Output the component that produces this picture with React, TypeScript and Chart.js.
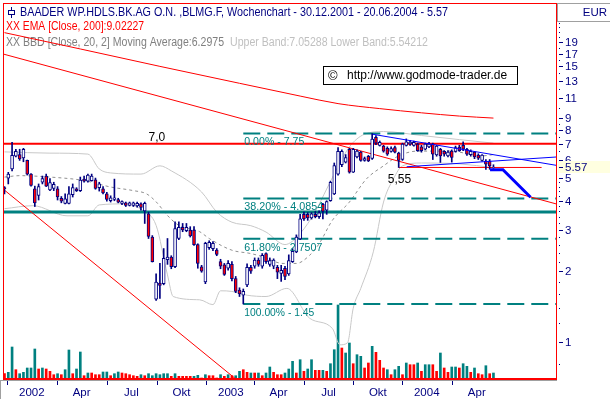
import React, { useEffect, useRef } from 'react';
import { Chart, registerables } from 'chart.js';

Chart.register(...registerables);

// Weekly candles, week 0 = 30.12.2001, last = 20.06.2004
const opens = [4.55,5.0,5.47,6.2,6.3,6.1,5.95,5.2,4.5,4.22,4.8,5.1,4.45,4.52,4.5,4.1,3.9,3.9,4.25,4.5,4.42,4.95,4.85,4.88,4.92,4.55,4.5,4.28,4.0,4.05,4.05,3.9,3.92,3.82,3.82,3.8,3.88,3.62,3.52,2.8,1.52,1.78,1.77,2.24,2.3,2.09,2.76,3.08,2.98,3.0,3.0,2.6,2.09,1.8,2.52,2.5,2.46,2.2,2.13,2.06,2.14,1.86,1.66,1.58,1.75,2.08,2.1,2.23,2.1,2.38,2.14,2.1,2.08,1.96,2.06,1.95,2.2,2.42,2.75,3.5,3.5,3.38,3.5,3.42,3.86,3.65,4.0,4.28,5.2,5.7,5.85,6.64,5.3,6.15,6.45,5.95,6.2,6.07,7.47,6.9,6.85,6.7,6.5,6.75,6.4,6.0,6.9,7.0,6.9,6.98,6.8,6.64,6.8,6.98,6.28,6.64,6.5,6.22,6.52,6.5,6.78,6.9,6.64,6.3,6.45,6.27,5.95,5.91,5.91,5.55];
const highs = [4.6,5.29,7.1,6.64,6.64,6.7,5.97,5.22,4.62,4.72,5.1,5.2,4.98,4.8,4.6,4.17,4.28,4.6,4.72,4.55,5.05,5.1,5.2,5.2,5.0,4.8,4.6,4.35,4.2,4.95,4.1,4.0,3.95,3.95,3.95,3.95,3.92,3.95,3.58,2.84,1.95,2.16,2.5,2.76,2.33,3.25,3.25,3.2,3.2,3.1,3.1,2.62,2.12,2.66,2.7,2.68,2.5,2.25,2.16,2.22,2.2,1.9,1.7,1.68,2.15,2.12,2.28,2.28,2.38,2.4,2.28,2.26,2.12,2.12,2.1,2.35,2.5,2.86,3.5,3.58,3.56,3.56,3.6,3.62,3.9,4.0,4.85,5.8,6.75,6.6,6.3,6.7,6.7,6.6,6.5,6.15,6.25,7.75,7.6,7.2,6.9,6.8,6.8,6.85,6.45,7.05,7.35,7.25,7.2,7.05,6.9,7.05,7.1,7.05,6.9,6.7,6.55,6.55,6.6,6.85,6.9,7.15,6.7,6.6,6.5,6.35,6.3,6.0,6.0,5.7];
const lows = [4.28,4.72,5.37,6.15,5.95,5.87,5.15,4.62,3.78,4.03,4.72,4.6,4.42,4.42,4.03,3.92,3.88,3.88,4.15,4.38,4.38,4.8,4.8,4.85,4.48,4.4,4.28,3.98,3.95,4.0,3.92,3.85,3.78,3.8,3.78,3.76,3.65,3.2,2.76,2.19,1.5,1.53,1.75,2.14,2.05,2.07,2.73,2.95,2.95,2.8,2.58,2.06,1.98,1.77,2.48,2.45,2.33,2.05,1.92,2.02,1.82,1.62,1.56,1.45,1.72,1.96,2.06,2.1,2.06,2.16,2.1,2.05,1.86,1.81,1.84,1.92,2.18,2.4,2.73,3.3,3.3,3.34,3.38,3.36,3.35,3.5,3.98,4.25,5.15,5.6,5.8,5.25,5.28,6.1,5.9,5.9,5.88,6.0,6.95,6.85,6.45,6.25,6.45,6.4,5.55,5.95,6.85,6.9,6.85,6.5,6.45,6.6,6.75,6.0,6.2,5.83,6.2,6.15,5.85,6.45,6.5,6.55,6.25,6.2,6.05,6.0,5.9,5.45,5.45,5.5];
const closes = [4.5,5.2,6.25,6.5,6.03,6.64,5.2,4.65,3.92,4.6,4.98,4.62,4.78,4.7,4.15,3.98,4.08,4.28,4.55,4.42,4.9,4.85,5.15,5.1,4.52,4.72,4.32,4.05,4.12,4.12,3.95,3.97,3.82,3.92,3.92,3.9,3.75,3.9,2.82,2.2,1.8,1.74,2.27,2.3,2.09,3.04,3.08,3.0,3.08,2.83,2.6,2.16,2.0,2.63,2.66,2.63,2.36,2.1,1.94,2.16,1.86,1.64,1.6,1.64,2.08,2.0,2.23,2.14,2.34,2.2,2.22,2.23,1.98,2.02,1.9,2.22,2.43,2.8,3.35,3.35,3.38,3.52,3.42,3.55,3.6,3.97,4.8,5.65,6.5,6.5,6.12,5.3,6.64,6.52,5.95,6.05,5.92,7.33,7.05,7.1,6.52,6.33,6.68,6.45,5.95,6.98,7.15,7.12,7.1,6.55,6.55,6.98,6.98,6.33,6.85,6.22,6.33,6.45,6.12,6.75,6.55,6.64,6.33,6.5,6.15,6.08,6.27,5.74,5.63,5.57];
const volumes = [4.3,5.7,31,8.3,4.3,5.7,10,10,29,9,10,9,6.7,3.3,4.3,3.3,8.3,28,4.3,9,26,2.3,5,5,3.3,3.3,6,6,2.3,4.3,6,5,4.3,3.3,2.3,1.7,3.3,2.3,4.3,2.3,4.3,3.3,4.3,4.3,1.7,4.3,1.7,1.7,1.7,1.7,1.7,2.7,0,3.3,2.3,2.3,0,3.3,1.7,3.3,2.3,2.3,6.7,8.3,5.7,5,5,5,2.3,5,11,5.7,3.3,3.3,5,9,16.7,5,18.3,6.7,9,18.3,7.7,7.7,7.7,6.7,14.3,28.3,73,30,25,35,14.3,23.3,21.7,10,15,31.7,25.7,17.7,10,8.3,3.3,8.3,11.7,3.3,15,13.3,13.3,15,6.7,13.3,13.3,13.3,6.7,25,10,5.7,11,11,10,14.3,11.7,5.7,10,4.3,3.3,12.3,4.3,5];
const volumeUp = [0,1,1,0,1,1,1,1,1,0,1,0,0,0,1,0,1,1,0,1,1,0,1,0,0,0,1,1,0,1,1,0,0,0,0,0,1,0,1,1,1,1,1,1,0,1,0,0,0,0,1,1,0,1,0,0,0,1,0,1,0,1,1,0,0,1,0,1,0,1,1,0,0,0,1,1,1,0,1,0,1,1,0,0,1,0,1,1,1,0,1,1,0,1,1,0,0,1,0,0,0,1,0,1,1,0,1,0,0,1,0,1,1,0,0,1,0,0,1,1,0,1,1,0,1,0,0,1,0,1];

// Indicators: [week, value]
const emaWeeks = [0, 20, 41, 62, 78, 88, 99, 110, 120, 129];
const emaValues = [20.9, 17.8, 15.0, 12.7, 11.2, 10.4, 9.9, 9.5, 9.2, 9.02];
const bbUpperWeeks = [0,12,22,25,28,36,41,44,52,56,60,65,69,74,78,82,85,88,91,95,100,110,120,129];
const bbUpperValues = [6.47,6.39,6.33,5.47,5.26,5.2,5.64,5.37,4.36,3.58,3.24,3.13,2.94,2.6,2.9,3.6,4.49,5.6,6.8,7.7,7.9,7.6,7.3,7.05];
const bbLowerWeeks = [0,7.5,16.5,22,25,32,36.5,40,43,44.5,51.5,55,57,60,64,69,74.5,80.5,86.5,88.5,90.5,92,94,97.3,100,102.6,105,110,120,129];
const bbLowerValues = [3.7,3.81,3.45,3.45,3.84,3.88,3.63,3.14,1.93,1.56,1.51,1.44,1.65,1.64,1.58,1.56,1.69,1.26,1.14,0.97,0.99,1.39,1.69,2.42,3.95,4.96,5.64,5.8,5.75,5.54];
const bbMidWeeks = [0,4,12,21,28,34,37.5,40,43,46,51.5,54,60,65,68,73.5,77,80.5,83,86.5,91,95.5,100,104,109,117.5,126,129];
const bbMidValues = [5.05,5.12,5.05,4.88,4.58,4.42,4.28,3.96,3.46,3.14,2.95,2.76,2.46,2.38,2.31,2.16,2.16,2.34,2.62,3.3,3.95,4.96,5.64,6.22,6.52,6.52,6.22,6.3];

// Drawn lines and levels
const level70 = 7.0;
const supportTeal = 3.58;
const fibStartWeek = 63;
const fibLevels = [7.75, 4.0854, 2.7507, 1.45];
const fibLabels = ['0.00% - 7.75', '38.20% - 4.0854', '61.80% - 2.7507', '100.00% - 1.45'];
const fibLabelWidths = [60, 79, 78, 70];
const steepTrendWeeks = [0, 62];
const steepTrendValues = [4.44, 0.673];
const upperTrendWeeks = [-0.13, 145.5];
const upperTrendValues = [16.9, 3.88];
const support555Weeks = [104, 141.7];
const support555Value = 5.55;
const blueUpperWeeks = [97.2, 145.5];
const blueUpperValues = [7.69, 5.67];
const blueLowerWeeks = [106.1, 145.5];
const blueLowerValues = [5.59, 6.15];
const arrowWeeks = [128.1, 131.5, 138.8];
const arrowValues = [5.43, 5.43, 4.14];

// Axes
const X_MIN = -0.13;
const X_MAX = 145.5;
const PRICE_MIN = 0.715;
const PRICE_MAX = 27.7;
const VOL_MAX = 374;
const priceTicks = [1, 2, 3, 4, 5, 6, 7, 8, 9, 11, 13, 15, 17, 19];
const minorTicks = [0.8, 1.2, 1.4, 1.6, 1.8, 2.2, 2.4, 2.6, 2.8, 3.2, 3.4, 3.6, 3.8, 4.2, 4.4, 4.6, 4.8, 5.5, 6.5, 7.5, 8.5, 10, 12, 14, 16, 18, 20, 21, 22, 23, 24, 25];
const quarterTickWeeks = [0.7, 13.85, 27.0, 40.2, 53.2, 65.8, 79.0, 92.0, 104.9, 118.1];
const quarterLabels = ['2002', 'Apr', 'Jul', 'Okt', '2003', 'Apr', 'Jul', 'Okt', '2004', 'Apr'];
const lastClose = 5.57;

const NAVY = '#000080';
const RED = '#FF0000';
const TEAL = '#008080';
const BLUE = '#0000FF';
const FONT = '"Liberation Sans", Arial, sans-serif';

const pts = (ws: number[], vs: number[]) => ws.map((w, k) => ({ x: w, y: vs[k] }));

const overlayPlugin = {
  id: 'overlay',
  beforeDatasetsDraw(chart: any) {
    const ctx = chart.ctx;
    ctx.save();
    ctx.textBaseline = 'middle';
    ctx.font = `12px ${FONT}`;
    ctx.strokeStyle = NAVY;
    ctx.lineWidth = 1;
    ctx.beginPath(); ctx.moveTo(11.5, 7); ctx.lineTo(11.5, 18); ctx.stroke();
    ctx.fillStyle = '#fff';
    ctx.fillRect(8.5, 10.5, 6, 4);
    ctx.strokeRect(8.5, 10.5, 6, 4);
    ctx.fillStyle = NAVY;
    ctx.textAlign = 'left';
    ctx.fillText('BAADER WP.HDLS.BK.AG O.N. ,BLMG.F, Wochenchart - 30.12.2001 - 20.06.2004 - 5.57', 20, 13, 428);
    ctx.fillStyle = RED;
    ctx.fillText('XX EMA [Close, 200]:9.02227', 6, 26.5, 138);
    ctx.fillStyle = '#808080';
    ctx.fillText('XX BBD [Close, 20, 2] Moving Average:6.2975', 6, 42.5, 218);
    ctx.fillStyle = '#C0C0C0';
    ctx.fillText('Upper Band:7.05288 Lower Band:5.54212', 230, 42.5, 198);
    ctx.restore();
  },
  afterDatasetsDraw(chart: any) {
    const ctx = chart.ctx;
    const xs = chart.scales.x;
    const ys = chart.scales.y;
    ctx.save();
    ctx.textBaseline = 'middle';
    ctx.font = `11.5px ${FONT}`;
    ctx.fillStyle = TEAL;
    ctx.textAlign = 'left';
    fibLevels.forEach((lv, k) => {
      ctx.fillText(fibLabels[k], xs.getPixelForValue(fibStartWeek) + 1, ys.getPixelForValue(lv) + 8.5, fibLabelWidths[k]);
    });
    ctx.font = `12px ${FONT}`;
    ctx.fillStyle = '#000';
    ctx.textAlign = 'center';
    ctx.fillText('7,0', xs.getPixelForValue(40.2), ys.getPixelForValue(level70) - 6);
    ctx.fillText('5,55', xs.getPixelForValue(104.2), ys.getPixelForValue(support555Value) + 12);
    ctx.fillStyle = '#fff';
    ctx.fillRect(323, 66, 194, 19);
    ctx.strokeStyle = '#000';
    ctx.lineWidth = 1;
    ctx.strokeRect(323.5, 66.5, 194, 18);
    ctx.fillStyle = '#000';
    ctx.textAlign = 'left';
    ctx.font = `13px ${FONT}`;
    ctx.fillText('\u00A9', 328, 76);
    ctx.font = `12px ${FONT}`;
    ctx.fillText('http://www.godmode-trader.de', 347, 76, 165);
    ctx.strokeStyle = RED;
    ctx.lineWidth = 1;
    ctx.strokeRect(3.5, 3.5, 553, 375);
    ctx.fillStyle = RED;
    ctx.fillRect(3, 378, 554, 2);
    ctx.strokeStyle = '#A0A0A0';
    ctx.strokeRect(557.5, 3.5, 53, 18);
    ctx.font = `11.5px ${FONT}`;
    ctx.fillStyle = NAVY;
    ctx.textAlign = 'right';
    ctx.fillText('EUR', 607, 13);
    minorTicks.forEach((v) => {
      const y = Math.round(ys.getPixelForValue(v));
      if (y > 22 && y < 380) ctx.fillRect(559, y, 1, 1);
    });
    ctx.textAlign = 'left';
    priceTicks.forEach((v) => {
      const y = Math.round(ys.getPixelForValue(v));
      ctx.fillRect(559, y, 4, 1);
      ctx.fillText(String(v), 565, y + 0.5);
    });
    const yl = Math.round(ys.getPixelForValue(lastClose));
    ctx.fillStyle = '#FFFFE0';
    ctx.fillRect(558, yl - 6, 52, 12);
    ctx.fillStyle = NAVY;
    ctx.fillRect(559, yl, 4, 1);
    ctx.fillText('5.57', 565, yl + 0.5);
    ctx.fillStyle = '#A0A0A0';
    ctx.fillRect(0, 380, 557, 1);
    ctx.fillRect(0, 380, 1, 19);
    ctx.fillStyle = NAVY;
    ctx.textAlign = 'center';
    quarterTickWeeks.forEach((w, k) => {
      const x = Math.round(xs.getPixelForValue(w));
      ctx.fillRect(x, 381, 1, 4);
      ctx.fillText(quarterLabels[k], xs.getPixelForValue(w + 6.5), 392.5);
    });
    ctx.restore();
  },
};

export default function App() {
  const ref = useRef<HTMLCanvasElement | null>(null);
  useEffect(() => {
    if (!ref.current) return;
    const weeks = closes.map((_, i) => i);
    const lineDs = (label: string, data: any[], color: string, width: number, order: number, extra: any = {}) => ({
      type: 'line', label, data, borderColor: color, borderWidth: width, pointRadius: 0, fill: false, order, yAxisID: 'y', ...extra,
    });
    const chart = new Chart(ref.current, {
      type: 'bar',
      data: {
        datasets: [
          {
            type: 'bar', label: 'Volume', yAxisID: 'vol', order: 20, grouped: false, barThickness: 2,
            data: weeks.map((i) => ({ x: i, y: volumes[i] })),
            backgroundColor: weeks.map((i) => (volumeUp[i] ? TEAL : RED)),
          },
          lineDs('BB upper', pts(bbUpperWeeks, bbUpperValues), '#C8C8C8', 1, 15, { cubicInterpolationMode: 'monotone' }),
          lineDs('BB lower', pts(bbLowerWeeks, bbLowerValues), '#C8C8C8', 1, 15, { cubicInterpolationMode: 'monotone' }),
          lineDs('BB mid', pts(bbMidWeeks, bbMidValues), '#909090', 1, 14, { cubicInterpolationMode: 'monotone', borderDash: [3, 3] }),
          lineDs('EMA 200', pts(emaWeeks, emaValues), RED, 1, 13, { cubicInterpolationMode: 'monotone' }),
          lineDs('7.0', [{ x: X_MIN, y: level70 }, { x: X_MAX, y: level70 }], RED, 2, 12),
          lineDs('Teal', [{ x: X_MIN, y: supportTeal }, { x: X_MAX, y: supportTeal }], TEAL, 3, 12),
          ...fibLevels.map((lv, k) => lineDs('Fib ' + k, [{ x: fibStartWeek, y: lv }, { x: X_MAX, y: lv }], TEAL, 2, 12, { borderDash: [17, 7] })),
          lineDs('Steep trend', pts(steepTrendWeeks, steepTrendValues), RED, 1, 11),
          lineDs('Upper trend', pts(upperTrendWeeks, upperTrendValues), RED, 1, 11),
          lineDs('5,55', [{ x: support555Weeks[0], y: support555Value }, { x: support555Weeks[1], y: support555Value }], RED, 1, 11),
          {
            type: 'bar', label: 'Wick', yAxisID: 'y', order: 6, grouped: false, barThickness: 1,
            data: weeks.map((i) => ({ x: i, y: [lows[i], highs[i]] })),
            backgroundColor: NAVY,
          },
          {
            type: 'bar', label: 'Body', yAxisID: 'y', order: 5, grouped: false, barThickness: 3,
            data: weeks.map((i) => ({ x: i, y: [Math.min(opens[i], closes[i]), Math.max(opens[i], closes[i])] })),
            backgroundColor: weeks.map((i) => (closes[i] >= opens[i] ? '#FFFFFF' : RED)),
            borderColor: NAVY, borderWidth: 1, borderSkipped: false,
          },
          lineDs('Blue upper', pts(blueUpperWeeks, blueUpperValues), BLUE, 1, 3),
          lineDs('Blue lower', pts(blueLowerWeeks, blueLowerValues), BLUE, 1, 3),
          lineDs('Arrow', pts(arrowWeeks, arrowValues), BLUE, 3, 2),
        ] as any,
      },
      options: {
        responsive: false,
        animation: false,
        events: [],
        layout: { padding: { left: 4, top: 4, right: 54, bottom: 21 } },
        plugins: { legend: { display: false }, tooltip: { enabled: false } },
        scales: {
          x: { type: 'linear', min: X_MIN, max: X_MAX, offset: false, display: false },
          y: { type: 'logarithmic', min: PRICE_MIN, max: PRICE_MAX, display: false },
          vol: { type: 'linear', min: 0, max: VOL_MAX, display: false },
        },
      } as any,
      plugins: [overlayPlugin],
    });
    return () => chart.destroy();
  }, []);
  return (
    <div style={{ position: 'fixed', left: 0, top: 0, width: 610, height: 399, background: '#fff' }}>
      <canvas ref={ref} width={610} height={399} />
    </div>
  );
}
